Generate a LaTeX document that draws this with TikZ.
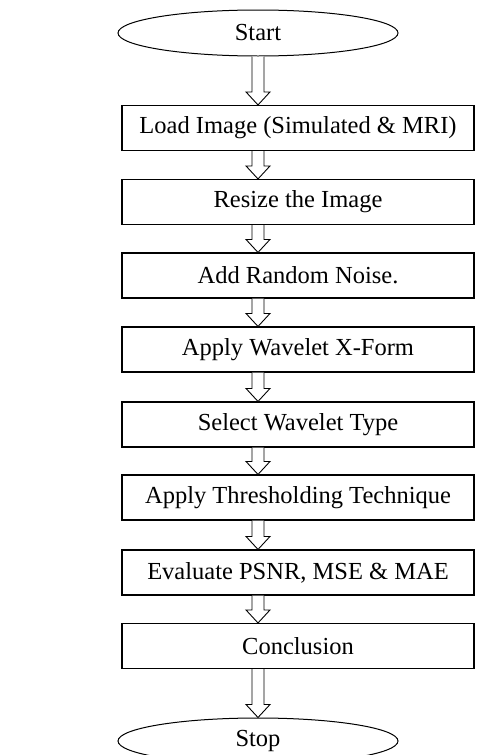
\documentclass[tikz,border=0pt]{standalone}
\usepackage{fontspec}
\setmainfont{Liberation Serif}
\usetikzlibrary{shapes.geometric,calc}

\tikzset{
  terminal/.style={draw, ellipse, line width=1pt, minimum width=280pt, minimum height=46pt, inner sep=0pt, font=\fontsize{24.5}{28}\selectfont},
  stepbox/.style={draw, rectangle, line width=1.1pt, minimum width=352pt, minimum height=45pt, inner sep=0pt, font=\fontsize{24.5}{28}\selectfont},
  hollow/.style={draw, fill=white, line width=0.9pt, line join=miter}
}

% hollow block arrow pointing down, from #1 to #2
\newcommand\blockarrow[2]{%
  \path[hollow] let \p1=(#1), \p2=(#2) in
    (\x1-6pt,\y1) -- (\x1-6pt,\y2+13pt) -- (\x1-12pt,\y2+13pt) -- (\x1,\y2)
    -- (\x1+12pt,\y2+13pt) -- (\x1+6pt,\y2+13pt) -- (\x1+6pt,\y1);%
}

\begin{document}
\begin{tikzpicture}[x=1pt,y=-1pt]
\useasboundingbox (0,0) rectangle (484,755);

\node[terminal] (start) at (258,33) {Start};
\node[stepbox] (b1) at (298,128)   {Load Image (Simulated \& MRI)};
\node[stepbox] (b2) at (298,202)   {Resize the Image};
\node[stepbox] (b3) at (298,275.5) {Add Random Noise.};
\node[stepbox] (b4) at (298,349.5) {Apply Wavelet X-Form};
\node[stepbox] (b5) at (298,424.5) {Select Wavelet Type};
\node[stepbox] (b6) at (298,497.5) {Apply Thresholding Technique};
\node[stepbox] (b7) at (298,572.5) {Evaluate PSNR, MSE \& MAE};
\node[stepbox] (b8) at (298,646)   {Conclusion};
\node[terminal] (stop) at (258,741) {Stop};

\blockarrow{start.south}{start.south |- b1.north}
\foreach \a/\b in {b1/b2,b2/b3,b3/b4,b4/b5,b5/b6,b6/b7,b7/b8}{
  \blockarrow{\a.south -| start.south}{\b.north -| start.south}
}
\blockarrow{b8.south -| start.south}{stop.north}
\end{tikzpicture}
\end{document}
